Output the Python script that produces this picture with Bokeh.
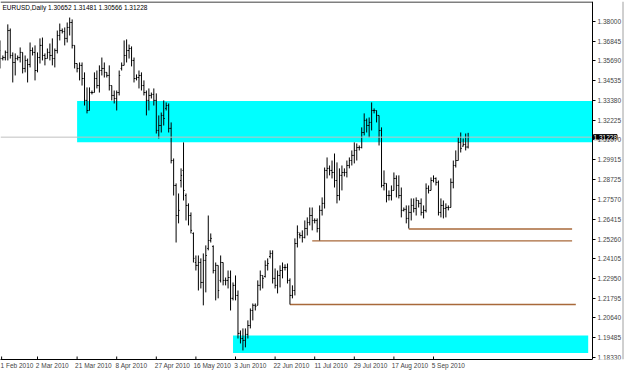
import numpy as np
from bokeh.plotting import figure
from bokeh.models import Range1d, FixedTicker, PrintfTickFormatter, Label
from bokeh.embed import file_html
from bokeh.resources import INLINE

# ---------------- data (EURUSD daily) ----------------
first_bar = -15   # bar number of the first bar; bar 0 is 2 Mar 2010

opens = [
    1.3630, 1.3583, 1.3589, 1.3619, 1.3747, 1.3601, 1.3560, 1.3583, 1.3589, 1.3619,
    1.3525, 1.3572, 1.3548, 1.3630, 1.3619, 1.3513, 1.3589, 1.3660, 1.3601, 1.3583,
    1.3619, 1.3601, 1.3583, 1.3630, 1.3718, 1.3747, 1.3741, 1.3701, 1.3765, 1.3794,
    1.3660, 1.3554, 1.3525, 1.3543, 1.3466, 1.3338, 1.3279, 1.3384, 1.3384, 1.3466,
    1.3425, 1.3513, 1.3525, 1.3502, 1.3484, 1.3425, 1.3367, 1.3349, 1.3384, 1.3525,
    1.3543, 1.3601, 1.3630, 1.3642, 1.3572, 1.3466, 1.3472, 1.3484, 1.3425, 1.3384,
    1.3338, 1.3367, 1.3373, 1.3338, 1.3162, 1.3191, 1.3250, 1.3291, 1.3308, 1.3174,
    1.2986, 1.2840, 1.2664, 1.2869, 1.2928, 1.2781, 1.2723, 1.2664, 1.2559, 1.2389,
    1.2372, 1.2389, 1.2272, 1.2401, 1.2471, 1.2518, 1.2483, 1.2342, 1.2372, 1.2284,
    1.2389, 1.2284, 1.2284, 1.2301, 1.2179, 1.2255, 1.2196, 1.1974, 1.1944, 1.1933,
    1.1968, 1.2020, 1.2108, 1.2138, 1.2138, 1.2255, 1.2313, 1.2307, 1.2372, 1.2424,
    1.2442, 1.2296, 1.2255, 1.2313, 1.2342, 1.2360, 1.2360, 1.2284, 1.2196, 1.2225,
    1.2500, 1.2553, 1.2547, 1.2536, 1.2588, 1.2623, 1.2664, 1.2635, 1.2635, 1.2588,
    1.2694, 1.2735, 1.2928, 1.2940, 1.2928, 1.2916, 1.2869, 1.2781, 1.2899, 1.2916,
    1.2916, 1.2957, 1.2986, 1.3016, 1.3045, 1.3062, 1.3062, 1.3150, 1.3221, 1.3191,
    1.3209, 1.3279, 1.3279, 1.3250, 1.3162, 1.2840, 1.2852, 1.2781, 1.2781, 1.2811,
    1.2881, 1.2840, 1.2781, 1.2694, 1.2700, 1.2647, 1.2682, 1.2723, 1.2705, 1.2752,
    1.2735, 1.2682, 1.2694, 1.2823, 1.2811, 1.2869, 1.2881, 1.2858, 1.2682, 1.2723,
    1.2705, 1.2711, 1.2711, 1.2858, 1.2957, 1.2986, 1.3092, 1.3070, 1.3080, 1.30652,
]
highs = [
    1.3689, 1.3601, 1.3630, 1.3783, 1.3759, 1.3619, 1.3613, 1.3601, 1.3648, 1.3619,
    1.3601, 1.3583, 1.3677, 1.3648, 1.3660, 1.3619, 1.3701, 1.3706, 1.3613, 1.3642,
    1.3671, 1.3701, 1.3642, 1.3747, 1.3788, 1.3759, 1.3765, 1.3794, 1.3823, 1.3812,
    1.3660, 1.3554, 1.3560, 1.3560, 1.3502, 1.3414, 1.3414, 1.3396, 1.3502, 1.3513,
    1.3543, 1.3589, 1.3560, 1.3502, 1.3543, 1.3425, 1.3396, 1.3396, 1.3513, 1.3560,
    1.3689, 1.3695, 1.3665, 1.3654, 1.3589, 1.3490, 1.3513, 1.3502, 1.3455, 1.3396,
    1.3408, 1.3384, 1.3408, 1.3379, 1.3250, 1.3267, 1.3338, 1.3326, 1.3320, 1.3209,
    1.2998, 1.2852, 1.2793, 1.2940, 1.3092, 1.2793, 1.2735, 1.2682, 1.2565, 1.2430,
    1.2430, 1.2413, 1.2442, 1.2489, 1.2664, 1.2559, 1.2489, 1.2389, 1.2372, 1.2430,
    1.2389, 1.2301, 1.2342, 1.2342, 1.2272, 1.2313, 1.2225, 1.1991, 1.2003, 1.2003,
    1.2050, 1.2120, 1.2149, 1.2149, 1.2284, 1.2342, 1.2313, 1.2401, 1.2413, 1.2460,
    1.2460, 1.2354, 1.2342, 1.2372, 1.2389, 1.2378, 1.2383, 1.2296, 1.2255, 1.2530,
    1.2606, 1.2565, 1.2577, 1.2635, 1.2653, 1.2711, 1.2711, 1.2647, 1.2647, 1.2723,
    1.2770, 1.2945, 1.3004, 1.2957, 1.2986, 1.3027, 1.2975, 1.2940, 1.2957, 1.2940,
    1.2986, 1.3004, 1.3045, 1.3092, 1.3086, 1.3074, 1.3180, 1.3262, 1.3232, 1.3238,
    1.3326, 1.3291, 1.3279, 1.3250, 1.3180, 1.2928, 1.2852, 1.2811, 1.2840, 1.2916,
    1.2899, 1.2899, 1.2828, 1.2711, 1.2723, 1.2723, 1.2764, 1.2764, 1.2770, 1.2752,
    1.2764, 1.2723, 1.2852, 1.2840, 1.2887, 1.2899, 1.2887, 1.2869, 1.2764, 1.2752,
    1.2735, 1.2723, 1.2881, 1.2986, 1.3045, 1.3121, 1.3150, 1.3115, 1.3144, 1.31481,
]
lows = [
    1.3525, 1.3572, 1.3572, 1.3572, 1.3583, 1.3443, 1.3484, 1.3572, 1.3560, 1.3496,
    1.3502, 1.3443, 1.3531, 1.3601, 1.3455, 1.3502, 1.3554, 1.3572, 1.3543, 1.3583,
    1.3572, 1.3543, 1.3531, 1.3613, 1.3689, 1.3730, 1.3660, 1.3677, 1.3718, 1.3642,
    1.3525, 1.3502, 1.3455, 1.3425, 1.3308, 1.3262, 1.3279, 1.3373, 1.3384, 1.3408,
    1.3384, 1.3484, 1.3472, 1.3472, 1.3396, 1.3338, 1.3320, 1.3279, 1.3367, 1.3513,
    1.3543, 1.3560, 1.3583, 1.3537, 1.3443, 1.3455, 1.3408, 1.3396, 1.3367, 1.3250,
    1.3279, 1.3349, 1.3308, 1.3144, 1.3115, 1.3150, 1.3191, 1.3279, 1.3150, 1.2969,
    1.2781, 1.2506, 1.2618, 1.2828, 1.2752, 1.2635, 1.2606, 1.2559, 1.2389, 1.2342,
    1.2225, 1.2237, 1.2138, 1.2214, 1.2460, 1.2506, 1.2325, 1.2167, 1.2179, 1.2272,
    1.2255, 1.2255, 1.2237, 1.2108, 1.2167, 1.2167, 1.1944, 1.1915, 1.1874, 1.1892,
    1.1944, 1.2003, 1.2050, 1.2108, 1.2138, 1.2225, 1.2237, 1.2301, 1.2342, 1.2413,
    1.2266, 1.2237, 1.2208, 1.2243, 1.2296, 1.2342, 1.2266, 1.2143, 1.2179, 1.2196,
    1.2477, 1.2530, 1.2506, 1.2530, 1.2547, 1.2606, 1.2577, 1.2618, 1.2565, 1.2518,
    1.2664, 1.2705, 1.2881, 1.2899, 1.2881, 1.2828, 1.2735, 1.2752, 1.2811, 1.2893,
    1.2887, 1.2940, 1.2957, 1.2969, 1.2986, 1.3045, 1.3057, 1.3133, 1.3150, 1.3121,
    1.3162, 1.3262, 1.3209, 1.3074, 1.2828, 1.2811, 1.2741, 1.2752, 1.2752, 1.2811,
    1.2770, 1.2764, 1.2653, 1.2688, 1.2618, 1.2588, 1.2635, 1.2682, 1.2664, 1.2711,
    1.2664, 1.2647, 1.2682, 1.2793, 1.2811, 1.2858, 1.2840, 1.2664, 1.2653, 1.2647,
    1.2653, 1.2694, 1.2711, 1.2823, 1.2945, 1.2986, 1.3033, 1.3068, 1.3045, 1.30566,
]
closes = [
    1.3583, 1.3589, 1.3619, 1.3747, 1.3601, 1.3560, 1.3583, 1.3589, 1.3619, 1.3525,
    1.3572, 1.3548, 1.3630, 1.3619, 1.3513, 1.3589, 1.3660, 1.3601, 1.3583, 1.3619,
    1.3601, 1.3583, 1.3630, 1.3718, 1.3747, 1.3741, 1.3701, 1.3765, 1.3794, 1.3660,
    1.3554, 1.3525, 1.3543, 1.3466, 1.3338, 1.3279, 1.3384, 1.3384, 1.3466, 1.3425,
    1.3513, 1.3525, 1.3502, 1.3484, 1.3425, 1.3367, 1.3349, 1.3384, 1.3484, 1.3543,
    1.3601, 1.3630, 1.3642, 1.3572, 1.3466, 1.3472, 1.3484, 1.3425, 1.3384, 1.3338,
    1.3367, 1.3373, 1.3338, 1.3162, 1.3191, 1.3250, 1.3232, 1.3308, 1.3174, 1.2986,
    1.2840, 1.2664, 1.2694, 1.2899, 1.2811, 1.2723, 1.2664, 1.2577, 1.2413, 1.2372,
    1.2389, 1.2272, 1.2401, 1.2430, 1.2518, 1.2530, 1.2342, 1.2372, 1.2225, 1.2389,
    1.2284, 1.2284, 1.2301, 1.2179, 1.2255, 1.2196, 1.1974, 1.1944, 1.1933, 1.1968,
    1.2020, 1.2108, 1.2138, 1.2132, 1.2255, 1.2313, 1.2296, 1.2372, 1.2383, 1.2442,
    1.2296, 1.2255, 1.2313, 1.2342, 1.2360, 1.2360, 1.2284, 1.2196, 1.2225, 1.2500,
    1.2565, 1.2547, 1.2536, 1.2588, 1.2623, 1.2664, 1.2635, 1.2635, 1.2588, 1.2694,
    1.2735, 1.2928, 1.2940, 1.2928, 1.2916, 1.2869, 1.2781, 1.2899, 1.2916, 1.2916,
    1.2957, 1.2986, 1.3016, 1.3045, 1.3062, 1.3062, 1.3150, 1.3221, 1.3191, 1.3209,
    1.3279, 1.3279, 1.3250, 1.3162, 1.2840, 1.2852, 1.2781, 1.2781, 1.2811, 1.2881,
    1.2840, 1.2781, 1.2694, 1.2700, 1.2647, 1.2682, 1.2723, 1.2705, 1.2752, 1.2735,
    1.2682, 1.2694, 1.2823, 1.2811, 1.2869, 1.2881, 1.2858, 1.2682, 1.2723, 1.2705,
    1.2711, 1.2711, 1.2858, 1.2957, 1.2986, 1.3092, 1.3057, 1.3080, 1.3065, 1.31228,
]

# time-axis labels (bar numbers where they start)
date_ticks = [-14.5, 0, 16, 32, 48, 64, 80, 96, 112, 128, 144, 160]
date_labels = ["1 Feb 2010", "2 Mar 2010", "21 Mar 2010", "8 Apr 2010", "27 Apr 2010",
               "16 May 2010", "3 Jun 2010", "22 Jun 2010", "11 Jul 2010", "29 Jul 2010",
               "17 Aug 2010", "5 Sep 2010"]

# price-axis labels
price_ticks = [1.38000, 1.36845, 1.35690, 1.34535, 1.33380, 1.32225, 1.31070, 1.29915,
               1.28725, 1.27570, 1.26415, 1.25260, 1.24105, 1.22950, 1.21795, 1.20640,
               1.19485, 1.18330]

# cyan zones (bar numbers / prices)
zone_start = [16, 79]
zone_end = [240, 222.5]
zone_top = [1.3334, 1.1962]
zone_bottom = [1.3093, 1.1859]

# support lines
support_start = [150, 111, 102]
support_end = [216, 216, 217.5]
support_level = [1.2585, 1.2515, 1.2143]

symbol = "EURUSD,Daily"

# ---------------- layout constants ----------------
W, H = 625, 374
BORDER_TOP, BORDER_BOTTOM = 1, 15
CHART_PX = 592                      # width of the price chart; the price scale sits right of it
px_per_bar = 2.475
X_START = -14.95
X_END = X_START + W / px_per_bar    # frame spans the whole window width
AXIS_AT = X_START + CHART_PX / px_per_bar
Y_START, Y_END = 1.1821, 1.3917
price_per_px = (Y_END - Y_START) / (H - BORDER_TOP - BORDER_BOTTOM)

bars = np.arange(first_bar, first_bar + len(closes))

p = figure(width=W, height=H,
           x_range=Range1d(X_START, X_END), y_range=Range1d(Y_START, Y_END),
           output_backend="svg", toolbar_location=None, y_axis_location="right",
           min_border_left=0, min_border_right=0, min_border_top=BORDER_TOP,
           min_border_bottom=BORDER_BOTTOM,
           background_fill_color="white", border_fill_color="white")
p.xgrid.visible = False
p.ygrid.visible = False
p.outline_line_color = None

# zones stop at the price scale
p.quad(left=zone_start, right=np.minimum(zone_end, AXIS_AT), bottom=zone_bottom, top=zone_top,
       fill_color="#00FFFF", line_color=None)

p.segment(x0=support_start, y0=support_level, x1=support_end, y1=support_level,
          line_color="#A8693A", line_width=1.3)

p.segment(x0=bars, y0=lows, x1=bars, y1=highs, line_color="black", line_width=1)
p.segment(x0=bars - 0.42, y0=opens, x1=bars, y1=opens, line_color="black", line_width=1)
p.segment(x0=bars, y0=closes, x1=bars + 0.42, y1=closes, line_color="black", line_width=1)

# bid line
p.segment(x0=[X_START], y0=[closes[-1]], x1=[AXIS_AT], y1=[closes[-1]],
          line_color="#C0C0C0", line_width=1)

# chart frame: top edge, and the window edge on the far right
p.segment(x0=[X_START], y0=[Y_END - 0.5 * price_per_px], x1=[AXIS_AT],
          y1=[Y_END - 0.5 * price_per_px], line_color="black", line_width=1)
p.segment(x0=[X_START + 622.5 / px_per_bar], y0=[Y_START], x1=[X_START + 622.5 / px_per_bar],
          y1=[Y_END], line_color="#A0A0A0", line_width=1)

# small time marks inside the chart bottom
p.segment(x0=date_ticks, y0=[Y_START] * len(date_ticks), x1=date_ticks,
          y1=[Y_START + 3 * price_per_px] * len(date_ticks), line_color="black", line_width=1)

FONT = "Liberation Sans"

# time axis: labels left-aligned on the marks (centres shifted by half a label)
label_px = 6.5 * 0.455
label_centres = [t + (len(s) * label_px / 2.0) / px_per_bar for t, s in zip(date_ticks, date_labels)]
xa = p.xaxis[0]
xa.ticker = FixedTicker(ticks=label_centres)
xa.major_label_overrides = {c: s for c, s in zip(label_centres, date_labels)}
xa.bounds = (X_START, AXIS_AT)
xa.major_tick_in = 0
xa.major_tick_out = 0
xa.minor_tick_line_color = None
xa.axis_line_color = "black"
xa.major_label_text_font = FONT
xa.major_label_text_font_size = "6.5px"
xa.major_label_standoff = 2

# price scale drawn at the right edge of the chart
ya = p.yaxis[0]
ya.fixed_location = AXIS_AT
ya.ticker = FixedTicker(ticks=price_ticks)
ya.formatter = PrintfTickFormatter(format="%.5f")
ya.major_tick_in = 0
ya.major_tick_out = 3
ya.minor_tick_line_color = None
ya.major_label_text_font = FONT
ya.major_label_text_font_size = "6.5px"
ya.major_label_standoff = 2
ya.axis_line_color = "black"

title_text = "%s  %.5f %.5f %.5f %.5f" % (symbol, opens[-1], highs[-1], lows[-1], closes[-1])
p.add_layout(Label(x=2, y=H - BORDER_TOP - BORDER_BOTTOM - 6, x_units="screen", y_units="screen",
                   text=title_text, text_font=FONT, text_font_size="6.5px",
                   text_baseline="middle", text_color="black"))

# current-price tag on the price scale
p.add_layout(Label(x=AXIS_AT + 1.0 / px_per_bar, y=closes[-1],
                   text="%.5f" % closes[-1], text_font=FONT, text_font_size="6.5px",
                   text_baseline="middle", text_color="white",
                   background_fill_color="black", border_line_color="black"))

open("out.html", "w").write(file_html(p, INLINE))
